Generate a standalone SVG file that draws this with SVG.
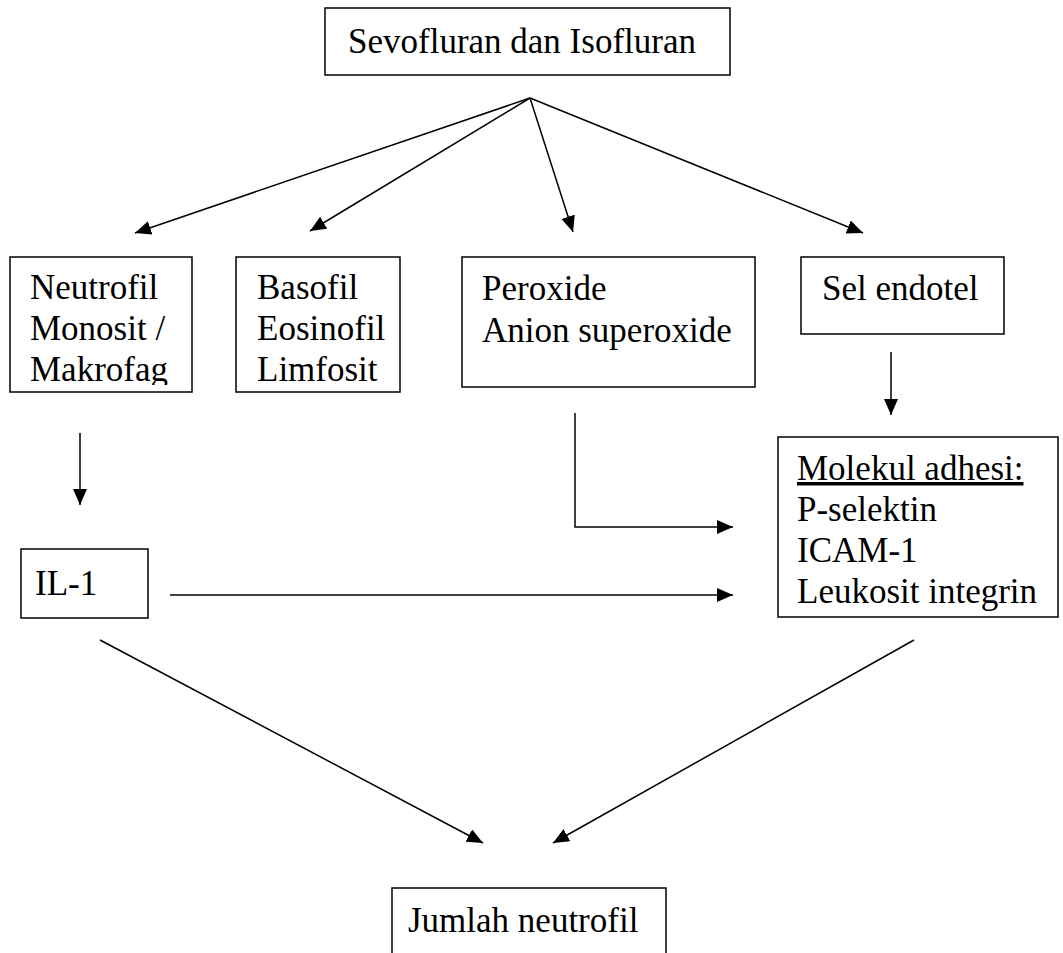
<svg xmlns="http://www.w3.org/2000/svg" width="1063" height="953" viewBox="0 0 1063 953">
<style>
.box{fill:none;stroke:#000;stroke-width:1.5}
.t{font-family:"Liberation Serif","Times New Roman",serif;font-size:35px;fill:#000}
.c{fill:none;stroke:#000;stroke-width:1.5}
</style>
<defs>
<marker id="ah" markerUnits="userSpaceOnUse" markerWidth="17" markerHeight="15" refX="16" refY="7" orient="auto">
<path d="M0,0 L16,7 L0,14 z" fill="#000"/>
</marker>
<clipPath id="clipN"><rect x="0" y="250" width="200" height="135"/></clipPath>
</defs>
<rect width="1063" height="953" fill="#fff"/>
<g id="n-sevo">
<rect class="box" x="325" y="8" width="405" height="67"/>
<text class="t" x="348" y="53">Sevofluran dan Isofluran</text>
</g>
<g id="n-neutrofil">
<rect class="box" x="10" y="257" width="182" height="135"/>
<g clip-path="url(#clipN)">
<text class="t" x="30" y="299">Neutrofil</text>
<text class="t" x="30" y="340">Monosit /</text>
<text class="t" x="30" y="381">Makrofag</text>
</g>
</g>
<g id="n-basofil">
<rect class="box" x="236" y="257" width="164" height="135"/>
<text class="t" x="257" y="299">Basofil</text>
<text class="t" x="257" y="340">Eosinofil</text>
<text class="t" x="257" y="381">Limfosit</text>
</g>
<g id="n-peroxide">
<rect class="box" x="462" y="257" width="293" height="130"/>
<text class="t" x="482" y="300">Peroxide</text>
<text class="t" x="482" y="342">Anion superoxide</text>
</g>
<g id="n-sel">
<rect class="box" x="801" y="257" width="203" height="77"/>
<text class="t" x="822" y="300">Sel endotel</text>
</g>
<g id="n-molekul">
<rect class="box" x="778" y="437" width="280" height="180"/>
<text class="t" x="797" y="480" text-decoration="underline">Molekul adhesi:</text>
<text class="t" x="797" y="521">P-selektin</text>
<text class="t" x="797" y="562">ICAM-1</text>
<text class="t" x="797" y="603">Leukosit integrin</text>
</g>
<g id="n-il1">
<rect class="box" x="21" y="549" width="127" height="69"/>
<text class="t" x="35" y="595">IL-1</text>
</g>
<g id="n-jumlah">
<path class="box" d="M392,960 L392,888 L666,888 L666,960"/>
<text class="t" x="408" y="932">Jumlah neutrofil</text>
</g>
<g id="connectors">
<line class="c" x1="530" y1="98" x2="135" y2="233" marker-end="url(#ah)"/>
<line class="c" x1="530" y1="98" x2="310" y2="231" marker-end="url(#ah)"/>
<line class="c" x1="530" y1="98" x2="573" y2="232" marker-end="url(#ah)"/>
<line class="c" x1="530" y1="98" x2="863" y2="233" marker-end="url(#ah)"/>
<line class="c" x1="80" y1="433" x2="80" y2="505" marker-end="url(#ah)"/>
<line class="c" x1="891" y1="352" x2="891" y2="415" marker-end="url(#ah)"/>
<line class="c" x1="170" y1="595" x2="733" y2="595" marker-end="url(#ah)"/>
<polyline class="c" points="575,413 575,527 733,527" marker-end="url(#ah)"/>
<line class="c" x1="100" y1="640" x2="483" y2="843" marker-end="url(#ah)"/>
<line class="c" x1="914" y1="640" x2="553" y2="843" marker-end="url(#ah)"/>
</g>
</svg>
